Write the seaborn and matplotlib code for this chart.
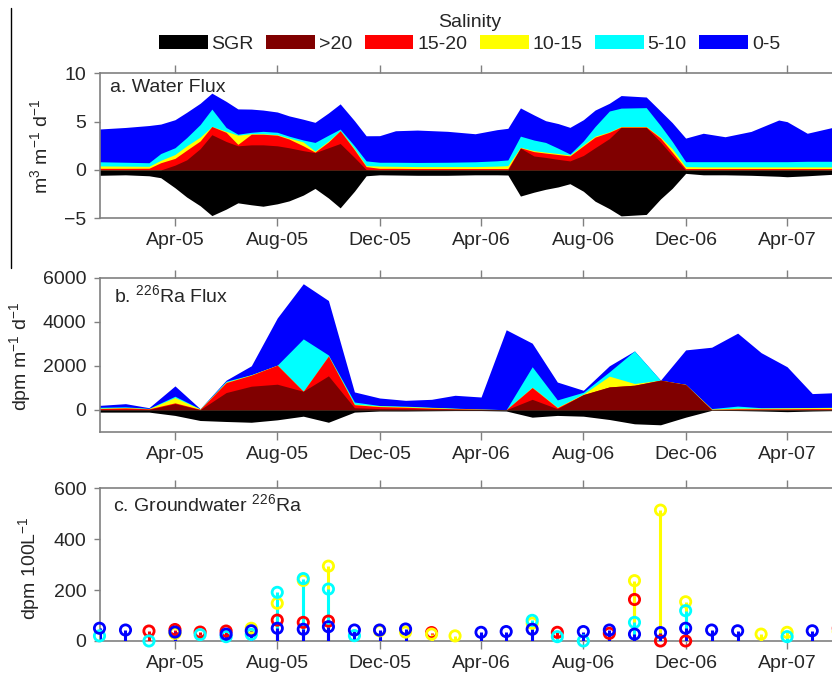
import numpy as np
import pandas as pd
import matplotlib
matplotlib.use('Agg')
import matplotlib.pyplot as plt
import matplotlib.dates as mdates
from matplotlib.patches import Patch
from matplotlib.lines import Line2D
import seaborn as sns

# salinity classes, bottom of the stack first
classes = ['>20', '15-20', '10-15', '5-10', '0-5']
class_colors = ['#800000', '#ff0000', '#ffff00', '#00ffff', '#0000ff']

# a. water flux (m3 m-1 d-1)
a_dates = ['2005-01-01', '2005-02-01', '2005-03-01', '2005-03-15', '2005-04-01', '2005-04-15',
           '2005-05-01', '2005-05-15', '2005-06-01', '2005-06-15', '2005-07-01', '2005-07-15',
           '2005-08-01', '2005-08-15', '2005-09-01', '2005-09-15', '2005-10-01', '2005-10-15',
           '2005-11-01', '2005-11-15', '2005-12-01', '2005-12-20', '2006-01-15', '2006-02-20',
           '2006-03-25', '2006-04-20', '2006-05-03', '2006-05-18', '2006-06-03', '2006-06-17',
           '2006-07-02', '2006-07-16', '2006-08-01', '2006-08-15', '2006-09-01', '2006-09-15',
           '2006-10-15', '2006-11-01', '2006-11-15', '2006-12-01', '2006-12-22', '2007-01-17',
           '2007-02-17', '2007-03-22', '2007-04-01', '2007-04-25', '2007-05-25', '2007-06-15']
wf_gt20 = [0, 0, 0, 0, 0.5, 1.05, 2.2, 3.65, 2.95, 2.5, 2.6, 2.6, 2.5, 2.3, 2.0, 1.8, 2.3, 2.74,
           1.3, 0.05, 0, 0, 0, 0, 0, 0, 0, 2.26, 1.45, 1.3, 1.1, 0.94, 1.5, 2.3, 3.25, 4.4,
           4.4, 2.9, 1.5, 0, 0, 0, 0, 0, 0, 0, 0, 0]
wf_15_20 = [0.17, 0.17, 0.18, 0.75, 0.7, 1.0, 0.8, 0.85, 0.95, 0.15, 1.1, 1.1, 1.1, 0.9, 0.5, 0.05,
            0.6, 1.32, 0.8, 0.3, 0.17, 0.17, 0.15, 0.15, 0.15, 0.15, 0.15, 0.04, 0.45, 0.45, 0.5,
            0.52, 1.0, 1.1, 0.65, 0.05, 0.05, 0.4, 0.35, 0.15, 0.15, 0.15, 0.15, 0.15, 0.15,
            0.15, 0.15, 0.15]
wf_10_15 = [0.25, 0.23, 0.2, 0.25, 0.4, 0.45, 0.4, 0.0, 0.1, 0.95, 0.05, 0.05, 0.05, 0.1, 0.4, 0.1,
            0.1, 0.0, 0.1, 0.1, 0.23, 0.21, 0.2, 0.2, 0.2, 0.25, 0.3, 0.05, 0.1, 0.1, 0.1, 0.09,
            0.1, 0.1, 0.05, 0.05, 0.05, 0.1, 0.35, 0.2, 0.17, 0.17, 0.17, 0.17, 0.17, 0.17,
            0.17, 0.17]
wf_5_10 = [0.43, 0.4, 0.37, 0.7, 0.7, 0.85, 1.3, 1.8, 0.4, 0.1, 0.15, 0.25, 0.25, 0.2, 0.2, 0.9,
           0.6, 0.17, 0.3, 0.49, 0.4, 0.42, 0.43, 0.45, 0.5, 0.55, 0.59, 1.15, 1.1, 1.0, 0.55,
           0.1, 0.4, 1.0, 2.15, 1.9, 1.95, 1.2, 0.75, 0.51, 0.54, 0.54, 0.54, 0.54, 0.54, 0.58,
           0.58, 0.58]
wf_0_5 = [3.39, 3.6, 3.85, 3.05, 2.9, 2.62, 2.2, 1.65, 2.7, 2.62, 2.4, 2.2, 2.1, 2.1, 2.15, 2.08,
          2.3, 2.61, 2.6, 2.6, 2.75, 3.26, 3.35, 3.2, 2.9, 3.22, 3.27, 2.92, 2.6, 2.25, 2.55, 2.76,
          2.2, 1.7, 0.8, 1.3, 1.1, 1.5, 1.95, 2.44, 2.94, 2.58, 3.13, 4.31, 4.14, 2.9, 3.5, 3.5]
wf_sgr = [-0.55, -0.5, -0.6, -0.8, -1.84, -2.8, -3.7, -4.72, -4.05, -3.4, -3.6, -3.75, -3.5, -3.2,
          -2.6, -1.91, -2.9, -3.92, -2.2, -0.6, -0.5, -0.52, -0.55, -0.55, -0.5, -0.5, -0.52, -2.7,
          -2.3, -2.0, -1.75, -1.42, -2.2, -3.23, -4.0, -4.75, -4.6, -3.0, -1.9, -0.35, -0.5, -0.5,
          -0.55, -0.65, -0.7, -0.6, -0.45, -0.45]

# b. 226Ra flux (dpm m-1 d-1), monthly
b_dates = pd.date_range('2005-01-01', '2007-06-01', freq='MS')
ra_gt20 = [20, 30, 20, 283, 10, 786, 1074, 1165, 845, 1545, 100, 60, 50, 40, 30, 20, 5, 480, 55,
           695, 1042, 1120, 1348, 1150, 0, 10, 10, 10, 10, 10]
ra_15_20 = [40, 60, 30, 37, 20, 454, 503, 865, 0, 900, 137, 90, 70, 40, 20, 10, 5, 535, 45, 0, 0,
            0, 0, 2, 25, 40, 40, 40, 50, 50]
ra_10_15 = [20, 20, 10, 240, 10, 20, 13, 0, 0, 0, 23, 30, 30, 30, 20, 5, 0, 15, 20, 25, 488, 77,
            0, 3, 15, 30, 30, 40, 40, 50]
ra_5_10 = [40, 30, 10, 60, 10, 40, 10, 0, 2375, 45, 97, 20, 20, 10, 10, 5, 0, 926, 334, 80, 197,
           1476, 0, 5, 20, 93, 20, 10, 10, 10]
ra_0_5 = [85, 143, 30, 468, 5, 48, 400, 2140, 2500, 2470, 458, 340, 264, 360, 583, 545, 3623,
          1069, 809, 90, 273, 0, 0, 1560, 2782, 3307, 2495, 1856, 630, 666]
ra_sgr = [-100, -100, -100, -250, -480, -525, -560, -450, -285, -560, -100, -50, -50, -40, -30,
          -30, -50, -330, -250, -285, -435, -630, -675, -330, -20, -30, -50, -80, -50, -30]

# c. groundwater 226Ra (dpm 100L-1), monthly samples
nan = np.nan
gw_15_20 = [nan, nan, 39, 45, 35, 39, nan, 82, 73, 78, nan, nan, nan, 33, nan, nan, nan, nan, 34,
            nan, 30, 163, 0, 0, nan, nan, nan, nan, nan, 50]
gw_10_15 = [nan, nan, nan, 30, nan, nan, 50, 148, 238, 294, nan, 40, 35, 27, 20, nan, nan, 70, nan,
            nan, nan, 237, 514, 154, nan, nan, 27, 34, nan, 37]
gw_5_10 = [20, nan, 0, nan, 25, 17, 26, 191, 245, 204, 21, nan, nan, nan, nan, nan, nan, 81, 17,
           0, nan, 73, nan, 119, nan, nan, nan, 17, nan, nan]
gw_0_5 = [50, 43, nan, 35, nan, 27, 40, 50, 46, 56, 43, 43, 47, nan, nan, 34, 37, 46, nan, 37, 43,
          27, 33, 50, 43, 40, nan, nan, 40, nan]

sns.set_theme(style='ticks')
plt.rcParams['font.family'] = ['Liberation Sans', 'DejaVu Sans']
plt.rcParams['mathtext.fontset'] = 'custom'
plt.rcParams['mathtext.rm'] = 'Liberation Sans'
plt.rcParams['mathtext.it'] = 'Liberation Sans:italic'
plt.rcParams['mathtext.bf'] = 'Liberation Sans:bold'
plt.rcParams['font.size'] = 14

fig = plt.figure(figsize=(8.32, 6.74), dpi=100)
left, width = 99.5 / 832, 750.5 / 832
ax_a = fig.add_axes([left, 0.6761, width, 0.2151])
ax_b = fig.add_axes([left, 0.3591, width, 0.2291])
ax_c = fig.add_axes([left, 0.0490, width, 0.2266])


def stacked(ax, dates, layers, sgr):
    tops = np.cumsum(np.array(layers, dtype=float), axis=0)
    for i in range(len(layers) - 1, -1, -1):
        ax.fill_between(dates, 0, tops[i], color=class_colors[i], lw=0)
    ax.fill_between(dates, sgr, 0, color='black', lw=0)


stacked(ax_a, pd.to_datetime(a_dates), [wf_gt20, wf_15_20, wf_10_15, wf_5_10, wf_0_5], wf_sgr)
stacked(ax_b, b_dates, [ra_gt20, ra_15_20, ra_10_15, ra_5_10, ra_0_5], ra_sgr)

for vals, col in zip([gw_15_20, gw_10_15, gw_5_10, gw_0_5], class_colors[1:]):
    v = np.array(vals, dtype=float)
    m = ~np.isnan(v)
    ax_c.vlines(b_dates[m], 0, v[m], color=col, lw=2.2, zorder=3)
    sns.scatterplot(x=b_dates[m], y=v[m], ax=ax_c, marker='o', s=55, color=col,
                    facecolor='none', edgecolor=col, linewidth=2.0, clip_on=False, zorder=4)

for ax, lim, ticks in [(ax_a, (-5, 10), [-5, 0, 5, 10]),
                       (ax_b, (-1000, 6000), [0, 2000, 4000, 6000]),
                       (ax_c, (0, 600), [0, 200, 400, 600])]:
    ax.set_xlim(pd.Timestamp('2005-01-01'), pd.Timestamp('2007-06-15'))
    ax.set_ylim(*lim)
    ax.set_yticks(ticks)
    ax.xaxis.set_major_locator(mdates.MonthLocator(bymonth=[4, 8, 12]))
    ax.xaxis.set_major_formatter(mdates.DateFormatter('%b-%y'))
    ax.tick_params(axis='x', direction='out', top=True, length=6, width=1, color='#808080',
                   pad=4, labelsize=14)
    ax.tick_params(axis='y', direction='out', length=4.5, width=1, color='#808080', pad=5,
                   labelsize=14)
    for s in ax.spines.values():
        s.set_color('#808080')
        s.set_linewidth(1.2)
    ax.set_xlabel('')

ax_a.set_ylabel(r'm$^{3}$ m$^{-1}$ d$^{-1}$', fontsize=14)
ax_b.set_ylabel(r'dpm m$^{-1}$ d$^{-1}$', fontsize=14)
ax_c.set_ylabel(r'dpm 100L$^{-1}$', fontsize=14)
ax_a.yaxis.set_label_coords(-0.064, 0.5)
ax_b.yaxis.set_label_coords(-0.089, 0.49)
ax_c.yaxis.set_label_coords(-0.077, 0.48)

ax_a.text(0.014, 0.96, 'a. Water Flux', transform=ax_a.transAxes, va='top', fontsize=14)
ax_b.text(0.019, 0.955, r'b. $^{226}$Ra Flux', transform=ax_b.transAxes, va='top', fontsize=14)
ax_c.text(0.018, 0.97, r'c. Groundwater $^{226}$Ra', transform=ax_c.transAxes, va='top',
          fontsize=14)

handles = [Patch(facecolor='black', edgecolor='none')]
handles += [Patch(facecolor=c, edgecolor='none') for c in class_colors]
labels = ['SGR'] + classes
fig.legend(handles, labels, title='Salinity', ncol=6, loc='upper center',
           bbox_to_anchor=(0.5643, 1.0), frameon=False, fontsize=14, title_fontsize=14,
           handlelength=2.5, handleheight=0.8, handletextpad=0.2, columnspacing=0.65,
           borderpad=0.2, labelspacing=0.2)

fig.add_artist(Line2D([11 / 832, 11 / 832], [1 - 8 / 674, 1 - 268 / 674], color='black', lw=1))

fig.savefig('out.png', dpi=100)
